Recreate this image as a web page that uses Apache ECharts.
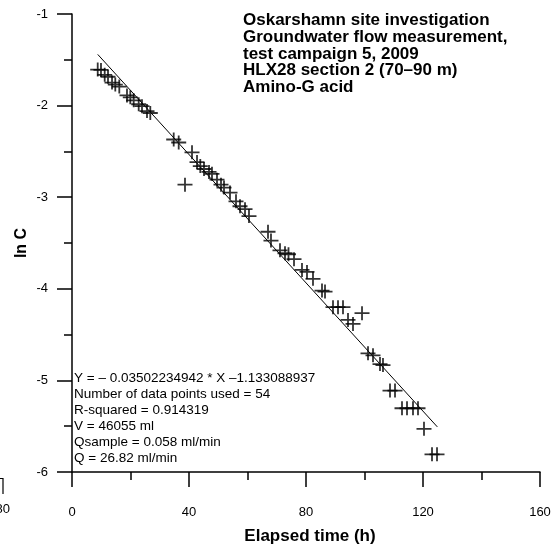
<!DOCTYPE html>
<html>
<head>
<meta charset="utf-8">
<script src="https://cdn.jsdelivr.net/npm/echarts@6/dist/echarts.min.js"></script>
<style>
html,body{margin:0;padding:0;background:#fff;}
#chart{width:556px;height:550px;}
</style>
</head>
<body>
<div id="chart"></div>
<script>
// Elapsed time (h)
const timeH = [8.79, 9.91, 11.18, 12.31, 13.68, 14.80, 16.17, 18.80, 19.93, 21.09,
  22.80, 23.93, 25.64, 26.77, 34.77, 36.48, 41.03, 38.63, 42.74, 43.86,
  45.13, 46.84, 47.86, 49.57, 50.94, 51.97, 54.02, 56.07, 57.44, 59.15,
  60.51, 67.01, 68.03, 71.11, 72.82, 74.02, 75.90, 78.63, 80.34, 82.39,
  85.47, 86.50, 89.23, 90.94, 92.65, 94.36, 96.07, 99.15, 101.20, 102.91,
  105.30, 106.32, 108.72, 110.43, 112.82, 114.53, 116.58, 118.29, 120.34, 123.08, 124.79];
// ln C
const lnC = [-1.607, -1.610, -1.664, -1.685, -1.749, -1.771, -1.792, -1.889, -1.910, -1.942,
  -1.985, -2.006, -2.060, -2.081, -2.370, -2.403, -2.510, -2.863, -2.617, -2.660,
  -2.692, -2.724, -2.745, -2.809, -2.863, -2.895, -2.949, -3.045, -3.099, -3.131,
  -3.206, -3.377, -3.473, -3.580, -3.612, -3.623, -3.677, -3.794, -3.816, -3.891,
  -4.019, -4.030, -4.201, -4.201, -4.201, -4.340, -4.383, -4.266, -4.704, -4.726,
  -4.822, -4.833, -5.111, -5.111, -5.304, -5.304, -5.304, -5.304, -5.529, -5.807, -5.807];
// regression
const slope = -0.03502234942;
const intercept = -1.133088937;
const fitRange = [8.8, 124.9];
const xTicks = [0, 40, 80, 120, 160];
const yTicks = [-6, -5, -4, -3, -2, -1];

const titleLines = [
  'Oskarshamn site investigation',
  'Groundwater flow measurement,',
  'test campaign 5, 2009',
  'HLX28 section 2 (70\u201390 m)',
  'Amino-G acid'
];
const statLines = [
  'Y = \u2013 0.03502234942 * X \u20131.133088937',
  'Number of data points used = 54',
  'R-squared = 0.914319',
  'V = 46055 ml',
  'Qsample = 0.058 ml/min',
  'Q = 26.82 ml/min'
];

const pts = timeH.map((t, i) => [t, lnC[i]]);
const fit = fitRange.map(x => [x, slope * x + intercept]);

const FONT = '"Liberation Sans", Arial, sans-serif';
const chart = echarts.init(document.getElementById('chart'), null, {renderer: 'canvas'});
chart.setOption({
  backgroundColor: '#ffffff',
  animation: false,
  grid: {left: 72, right: 16, top: 14, bottom: 69, containLabel: false},
  xAxis: {
    type: 'value', min: xTicks[0], max: xTicks[xTicks.length - 1], interval: 40,
    name: 'Elapsed time (h)', nameLocation: 'middle', nameGap: 56,
    nameTextStyle: {fontFamily: FONT, fontSize: 17, fontWeight: 'bold', color: '#000', padding: [0, 0, 0, 8]},
    axisLine: {show: true, onZero: false, lineStyle: {color: '#000', width: 1.5}},
    axisTick: {show: true, inside: false, length: 15, lineStyle: {color: '#000', width: 1.5}},
    minorTick: {show: true, splitNumber: 2, length: 8, lineStyle: {color: '#000', width: 1.5}},
    axisLabel: {margin: 34, fontFamily: FONT, fontSize: 13, color: '#000'},
    splitLine: {show: false}
  },
  yAxis: {
    type: 'value', min: yTicks[0], max: yTicks[yTicks.length - 1], interval: 1,
    name: 'ln C', nameLocation: 'middle', nameGap: 42, nameRotate: 90, nameMoveOverlap: false,
    nameTextStyle: {fontFamily: FONT, fontSize: 16, fontWeight: 'bold', color: '#000'},
    axisLine: {show: true, onZero: false, lineStyle: {color: '#000', width: 1.5}},
    axisTick: {show: true, inside: false, length: 15, lineStyle: {color: '#000', width: 1.5}},
    minorTick: {show: true, splitNumber: 2, length: 8, lineStyle: {color: '#000', width: 1.5}},
    axisLabel: {margin: 24, fontFamily: FONT, fontSize: 13, color: '#000'},
    splitLine: {show: false}
  },
  series: [
    {
      type: 'line', data: fit, showSymbol: false, symbol: 'none',
      lineStyle: {color: '#000', width: 1}, z: 2, silent: true
    },
    {
      type: 'scatter', data: pts,
      symbol: 'path://M0,6.1H15V7.9H0Z M6.6,0H8.4V14H6.6Z',
      symbolSize: [15, 14], symbolKeepAspect: false,
      itemStyle: {color: '#000'}, z: 3, silent: true
    }
  ],
  graphic: [
    {
      type: 'text', left: 243, top: 12,
      style: {text: titleLines.join('\n'), font: 'bold 17px ' + FONT, fill: '#000', lineHeight: 16.75}
    },
    {
      type: 'text', left: 74, top: 370.5,
      style: {text: statLines.join('\n'), font: '13.5px ' + FONT, fill: '#000', lineHeight: 16}
    },
    {
      type: 'text', right: 546, top: 503,
      style: {text: '80', font: '13px ' + FONT, fill: '#000'}
    },
    {
      type: 'polyline',
      shape: {points: [[0, 478.5], [3, 478.5], [3, 494]]},
      style: {stroke: '#000', lineWidth: 1.2, fill: null}
    }
  ]
});
</script>
</body>
</html>
